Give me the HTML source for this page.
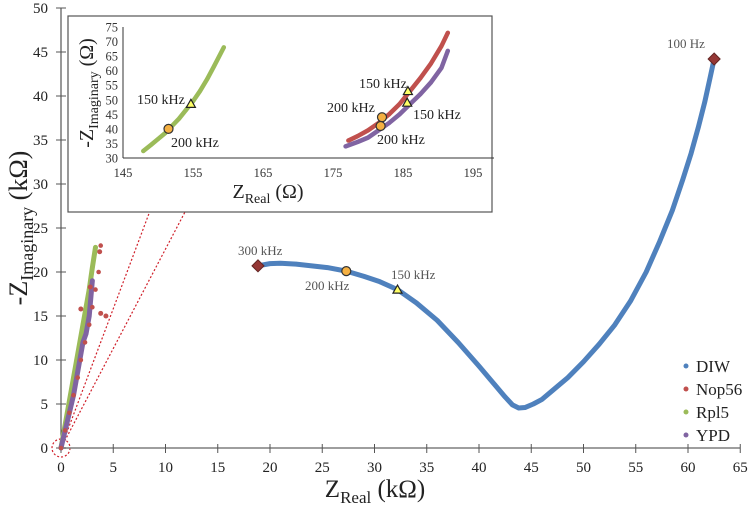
<!DOCTYPE html>
<html><head><meta charset="utf-8">
<style>
html,body{margin:0;padding:0;background:#fff;}
svg{display:block;font-family:"Liberation Serif",serif;}
</style></head>
<body>
<svg id="chart" width="750" height="508" viewBox="0 0 750 508" xmlns="http://www.w3.org/2000/svg">
<g id="main"></g>
<g id="inset"></g>
</svg>
<script>
// ---- main chart data (kΩ) ----
const xTicks = [0,5,10,15,20,25,30,35,40,45,50,55,60,65];
const yTicks = [0,5,10,15,20,25,30,35,40,45,50];
const diwX = [18.85,20,21,22.5,24,25.5,27.3,29,30.5,32.2,34,36,38,40,41.5,42.5,43.2,43.8,44.4,45.2,46,47,48.5,50,51.5,53,54.5,56,57.3,58.5,59.5,60.3,61,61.6,62.1,62.5];
const diwY = [20.7,20.95,21.0,20.9,20.7,20.5,20.1,19.5,18.9,18.0,16.5,14.5,12.0,9.3,7.2,5.8,4.9,4.55,4.6,5.0,5.5,6.5,8.0,9.8,11.8,14.0,16.7,20.0,23.5,27.0,30.5,33.5,36.5,39.3,42.0,44.2];
const rplX = [0,0.3,0.6,0.9,1.2,1.5,1.8,2.1,2.4,2.7,3.0,3.3];
const rplY = [0,2,4,6,8,10,12,14,16,18,20.5,22.8];
const ypdX = [0,0.3,0.6,0.9,1.2,1.5,1.8,2.1,2.4,2.7,3.0];
const ypdY = [0,1.5,3,4.5,6,8,10,12,13,15,19];
const nopX = [0,0.4,0.8,1.2,1.6,1.9,2.3,2.7,3.0,3.3,3.6,3.8,1.9,3.8,4.3,2.8,3.7];
const nopY = [0,2,4,6,8,10,12,14,16,18,20,23,15.8,15.3,15.0,18.3,22.3];
const guideEnds = [[8.5,26.9],[11.9,26.9]];
// ---- inset data (Ω) ----
const inXTicks = [145,155,165,175,185,195];
const inYTicks = [30,35,40,45,50,55,60,65,70,75];
const inGreenX = [147.9,149,150,151,152,153,154,155,156,157,158,159.4];
const inGreenY = [32.4,34.5,36.5,38.5,41,43.5,46.5,49.5,53,57,61.5,68];
const inRedX = [177.2,178.5,180,181.5,183,184.5,186,187.5,189,190.5,191.4];
const inRedY = [36,37.5,39.5,42,45,48.5,53,57.5,62.5,68.5,73];
const inPurX = [176.8,178.5,180,181.5,183,184.5,186,187.5,189,190.5,191.4];
const inPurY = [34,35.5,37,39.5,42,45,48.5,52,56,61,66.8];

const NS="http://www.w3.org/2000/svg";
function mk(parent,tag,attrs,text){const e=document.createElementNS(NS,tag);for(const k in attrs)e.setAttribute(k,attrs[k]);if(text!==undefined)e.textContent=text;parent.appendChild(e);return e;}
const main=document.getElementById('main'), inset=document.getElementById('inset');
const sx=v=>61+v*10.45, sy=v=>448-v*8.8;
const ix=v=>123+(v-145)*7.0, iy=v=>158-(v-30)*2.911;

guideEnds.forEach(g=>{const l=mk(main,'line',{x1:sx(0),y1:sy(0),x2:sx(g[0]),y2:sy(g[1]),stroke:'#d0202a','stroke-width':1.2,'stroke-dasharray':'2,2'});

});
const zc=mk(main,'circle',{cx:sx(0),cy:sy(0),r:9,fill:'none',stroke:'#d0202a','stroke-width':1.2,'stroke-dasharray':'2,2'});



const ax=mk(main,'line',{x1:sx(0),y1:sy(0),x2:sx(65),y2:sy(0),stroke:'#7f7f7f','stroke-width':1.5});


const ay=mk(main,'line',{x1:sx(0),y1:sy(0),x2:sx(0),y2:sy(50),stroke:'#333','stroke-width':1});


xTicks.forEach(t=>{mk(main,'line',{x1:sx(t),y1:sy(0)-4,x2:sx(t),y2:sy(0)+5,stroke:'#555'});
const tx=mk(main,'text',{x:sx(t),y:472,'text-anchor':'middle','font-size':15,fill:'#222'},t);

});
yTicks.forEach(t=>{mk(main,'line',{x1:sx(0)-5,y1:sy(t),x2:sx(0)+5,y2:sy(t),stroke:'#555'});
const ty=mk(main,'text',{x:48,y:sy(t)+5,'text-anchor':'end','font-size':15,fill:'#222'},t);

});

function series(g,xs,ys,fx,fy,color,w,r,name,line){
  if(line){let d='';xs.forEach((x,i)=>{d+=(i?'L':'M')+fx(x)+','+fy(ys[i]);});
  const p=mk(g,'path',{d:d,fill:'none',stroke:color,'stroke-width':w,'stroke-linecap':'round','stroke-linejoin':'round'});
  
  }
  xs.forEach((x,i)=>{const c=mk(g,'circle',{cx:fx(x),cy:fy(ys[i]),r:r,fill:color});
  
  });
}
series(main,rplX,rplY,sx,sy,'#9bbb59',5,2.3,'rpl5',true);
series(main,ypdX,ypdY,sx,sy,'#8064a2',5,2.3,'ypd',true);
series(main,nopX.slice(0,12),nopY.slice(0,12),sx,sy,'#c0504d',3,2.3,'nop56',false);
series(main,nopX.slice(12),nopY.slice(12),sx,sy,'#c0504d',3,2.5,'nop56-outlier',false);
series(main,diwX,diwY,sx,sy,'#4f81bd',5,2.2,'diw',true);

function diamond(g,x,y,name){const p=mk(g,'path',{d:`M${x},${y-6}L${x+6},${y}L${x},${y+6}L${x-6},${y}Z`,fill:'#953735',stroke:'#632523','stroke-width':1});

}
function dot(g,x,y,name){const c=mk(g,'circle',{cx:x,cy:y,r:4.5,fill:'#f5b041',stroke:'#333','stroke-width':1.2});

}
function tri(g,x,y,name){const p=mk(g,'path',{d:`M${x},${y-4.5}L${x+4.5},${y+3.5}L${x-4.5},${y+3.5}Z`,fill:'#ffff66',stroke:'#222','stroke-width':1.2});

}
function label(g,x,y,t,size,color,name){const e=mk(g,'text',{x:x,y:y,'font-size':size,fill:color},t);

}
diamond(main,sx(18.85),sy(20.7),'marker-300khz');
dot(main,sx(27.3),sy(20.1),'marker-200khz');
tri(main,sx(32.2),sy(18.0),'marker-150khz');
diamond(main,sx(62.5),sy(44.2),'marker-100hz');
label(main,238,255,'300 kHz',13,'#555','label-300khz');
label(main,305,290,'200 kHz',13,'#555','label-200khz');
label(main,391,279,'150 kHz',13,'#555','label-150khz');
label(main,667,48,'100 Hz',13,'#555','label-100hz');

const yt=mk(main,'text',{transform:'translate(27,228) rotate(-90)','text-anchor':'middle','font-size':26,fill:'#222'});


yt.innerHTML='-Z<tspan font-size="18" dy="6">Imaginary</tspan><tspan dy="-6"> (kΩ)</tspan>';
const xt=mk(main,'text',{x:375,y:497,'text-anchor':'middle','font-size':25,fill:'#222'});


xt.innerHTML='Z<tspan font-size="17" dy="6">Real</tspan><tspan dy="-6"> (kΩ)</tspan>';

[['DIW','#4f81bd'],['Nop56','#c0504d'],['Rpl5','#9bbb59'],['YPD','#8064a2']].forEach((l,i)=>{
const g=mk(main,'g',{});


mk(g,'circle',{cx:686,cy:366+i*23,r:2.5,fill:l[1]});
mk(g,'text',{x:696,y:372+i*23,'font-size':17,fill:'#222'},l[0]);});

// ---- inset ----
const box=mk(inset,'rect',{x:68,y:16,width:424,height:196,fill:'#fff',stroke:'#555','stroke-width':1.2});


mk(inset,'line',{x1:ix(145),y1:iy(30),x2:ix(198),y2:iy(30),stroke:'#333'});
mk(inset,'line',{x1:ix(145),y1:iy(30),x2:ix(145),y2:iy(75),stroke:'#333'});
inXTicks.forEach(t=>{const e=mk(inset,'text',{x:ix(t),y:177,'text-anchor':'middle','font-size':12.5,fill:'#333'},t);

});
inYTicks.forEach(t=>{const e=mk(inset,'text',{x:ix(145)-5,y:iy(t)+4.5,'text-anchor':'end','font-size':12.5,fill:'#333'},t);

});
series(inset,inGreenX,inGreenY,ix,iy,'#9bbb59',4.5,2,'inset-rpl5',true);
series(inset,inRedX,inRedY,ix,iy,'#c0504d',4.5,2,'inset-nop56',true);
series(inset,inPurX,inPurY,ix,iy,'#8064a2',4.5,2,'inset-ypd',true);
dot(inset,ix(151.5),iy(40),'inset-green-200khz');
tri(inset,ix(154.7),iy(48.6),'inset-green-150khz');
dot(inset,ix(182),iy(44),'inset-red-200khz');
dot(inset,ix(181.8),iy(41),'inset-purple-200khz');
tri(inset,ix(185.7),iy(53),'inset-red-150khz');
tri(inset,ix(185.6),iy(49),'inset-purple-150khz');
label(inset,137,104,'150 kHz',14,'#222','inset-label-green-150khz');
label(inset,171,147,'200 kHz',14,'#222','inset-label-green-200khz');
label(inset,359,88,'150 kHz',14,'#222','inset-label-red-150khz');
label(inset,327,112,'200 kHz',14,'#222','inset-label-red-200khz');
label(inset,413,119,'150 kHz',14,'#222','inset-label-purple-150khz');
label(inset,377,144,'200 kHz',14,'#222','inset-label-purple-200khz');
const iyt=mk(inset,'text',{transform:'translate(93,93) rotate(-90)','text-anchor':'middle','font-size':20,fill:'#222'});


iyt.innerHTML='-Z<tspan font-size="14" dy="5">Imaginary</tspan><tspan dy="-5"> (Ω)</tspan>';
const ixt=mk(inset,'text',{x:268,y:198,'text-anchor':'middle','font-size':20,fill:'#222'});


ixt.innerHTML='Z<tspan font-size="14" dy="5">Real</tspan><tspan dy="-5"> (Ω)</tspan>';
</script>
</body></html>
